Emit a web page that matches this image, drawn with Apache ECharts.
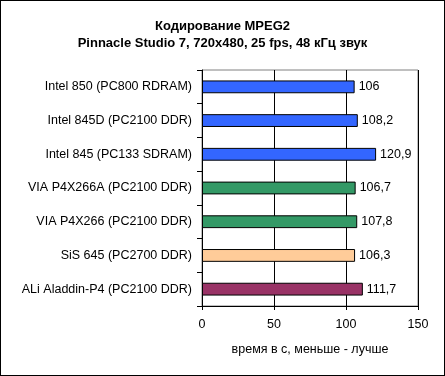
<!DOCTYPE html>
<html>
<head>
<meta charset="utf-8">
<style>
html,body{margin:0;padding:0;background:#fff;}
#c{width:445px;height:376px;box-sizing:border-box;}
#frame{position:absolute;left:0;top:0;width:445px;height:376px;box-sizing:border-box;border:1px solid #000;pointer-events:none;}
</style>
<script src="https://cdn.jsdelivr.net/npm/echarts@6/dist/echarts.min.js"></script>
</head>
<body>
<div id="c"></div>
<div id="frame"></div>
<script>
var categories = [
  "Intel 850 (PC800 RDRAM)",
  "Intel 845D (PC2100 DDR)",
  "Intel 845 (PC133 SDRAM)",
  "VIA P4X266A (PC2100 DDR)",
  "VIA P4X266 (PC2100 DDR)",
  "SiS 645 (PC2700 DDR)",
  "ALi Aladdin-P4 (PC2100 DDR)"
];
var values = [106, 108.2, 120.9, 106.7, 107.8, 106.3, 111.7];
var barColors = ["#3366FF", "#3366FF", "#3366FF", "#339966", "#339966", "#FFCC99", "#993366"];
var titleText = "Кодирование MPEG2\nPinnacle Studio 7, 720x480, 25 fps, 48 кГц звук";
var axisName = "время в с, меньше - лучше";

var font = "Liberation Sans, Arial, sans-serif";
var chart = echarts.init(document.getElementById('c'), null, {renderer: 'canvas'});
chart.setOption({
  animation: false,
  backgroundColor: '#fff',
  title: {
    text: titleText,
    left: 'center',
    top: 13,
    textStyle: {fontFamily: font, fontSize: 13, fontWeight: 'bold', color: '#000', lineHeight: 17}
  },
  grid: {left: 202, right: 27, top: 70, bottom: 70, show: true, borderColor: '#808080', borderWidth: 1, backgroundColor: '#fff'},
  xAxis: {
    type: 'value', min: 0, max: 150, interval: 50,
    axisLine: {show: true, lineStyle: {color: '#000'}},
    axisTick: {show: true, length: 4, lineStyle: {color: '#000'}},
    axisLabel: {fontFamily: font, fontSize: 12.5, color: '#000', margin: 12},
    splitLine: {show: true, lineStyle: {color: '#000'}},
    name: axisName, nameLocation: 'middle', nameGap: 37,
    nameTextStyle: {fontFamily: font, fontSize: 12.5, color: '#000'}
  },
  yAxis: {
    type: 'category', data: categories, inverse: true,
    axisLine: {show: true, lineStyle: {color: '#000'}},
    axisTick: {show: true, length: 5, lineStyle: {color: '#000'}},
    axisLabel: {fontFamily: font, fontSize: 12.5, color: '#000', margin: 10}
  },
  series: [{
    type: 'bar',
    data: values.map(function (v, i) { return {value: v, itemStyle: {color: barColors[i]}}; }),
    barWidth: '38%',
    itemStyle: {borderColor: '#000', borderWidth: 1},
    label: {
      show: true, position: 'right', distance: 4,
      fontFamily: font, fontSize: 12.5, color: '#000',
      formatter: function (p) { return String(p.value).replace('.', ','); }
    }
  }]
});
</script>
</body>
</html>
